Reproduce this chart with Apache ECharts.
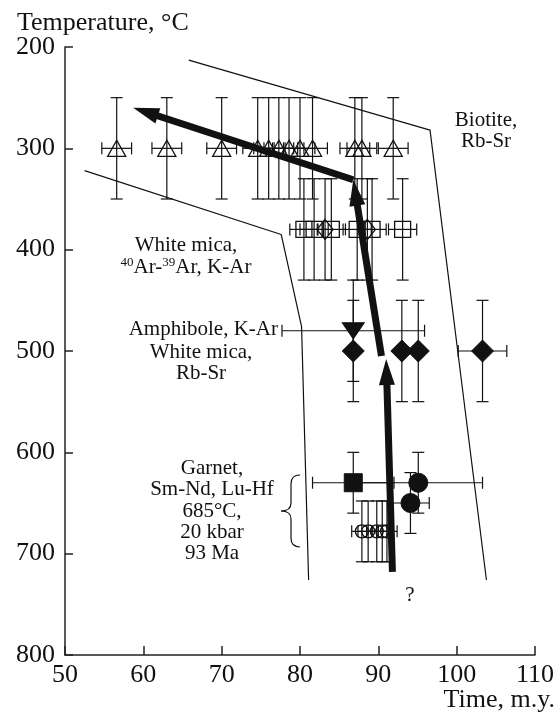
<!DOCTYPE html>
<html>
<head>
<meta charset="utf-8">
<script src="https://cdn.jsdelivr.net/npm/echarts@6.0.0/dist/echarts.min.js"></script>
<style>
  html, body { margin: 0; padding: 0; background: #fff; }
  #chart { width: 558px; height: 715px; }
</style>
</head>
<body>
<div id="chart"></div>
<script>
// Axis ticks
const timeTicks = [50, 60, 70, 80, 90, 100, 110];
const tempTicks = [200, 300, 400, 500, 600, 700, 800];

// Biotite Rb-Sr (open triangles)
const bioAge     = [56.6, 63.0, 70.0, 74.6, 76.0, 77.3, 78.6, 80.0, 81.6, 87.0, 87.9, 91.9];
const bioTemp    = [300, 300, 300, 300, 300, 300, 300, 300, 300, 300, 300, 300];
const bioAgeErr  = [1.9, 1.9, 1.9, 1.9, 1.9, 1.9, 1.9, 1.9, 1.9, 1.9, 1.9, 1.9];
const bioTempErr = [50, 50, 50, 50, 50, 50, 50, 50, 50, 50, 50, 50];

// White mica 40Ar-39Ar (open squares) and K-Ar (open diamonds)
const arAge      = [80.5, 81.8, 84.0, 87.3, 89.2, 93.1];
const arTemp     = [380, 380, 380, 380, 380, 380];
const arAgeErr   = [1.8, 1.8, 1.8, 1.8, 1.8, 1.8];
const arTempErr  = [50, 50, 50, 50, 50, 50];
const karAge     = [83.2, 88.6];
const karTemp    = [380, 380];
const karAgeErr  = [0, 0];
const karTempErr = [50, 50];

// Amphibole K-Ar (filled down triangle)
const amphAge     = [86.8];
const amphTemp    = [480];
const amphAgeErr  = [9.1];
const amphTempErr = [50];

// White mica Rb-Sr (filled diamonds)
const rbsrAge     = [86.8, 93.0, 95.1, 103.3];
const rbsrTemp    = [500, 500, 500, 500];
const rbsrAgeErr  = [0, 0, 0, 3.1];
const rbsrTempErr = [50, 50, 50, 50];

// Garnet Sm-Nd (filled square), Lu-Hf (filled circles), small open circles
const smndAge     = [86.8];
const smndTemp    = [630];
const smndAgeErr  = [5.2];
const smndTempErr = [30];
const luhfAge     = [95.1, 94.1];
const luhfTemp    = [630, 650];
const luhfAgeErr  = [8.2, 2.4];
const luhfTempErr = [30, 30];
const grtAge      = [87.9, 88.7, 89.8, 90.5, 91.1];
const grtTemp     = [678, 678, 678, 678, 678];
const grtAgeErr   = [1.3, 1.3, 1.3, 1.3, 1.3];
const grtTempErr  = [30, 30, 30, 30, 30];

// Field boundaries
const micaBoundary    = [[52.5, 322], [77.6, 385], [80.2, 476], [81.1, 726]];
const biotiteBoundary = [[65.8, 213], [96.6, 282], [103.8, 726]];

// Cooling path (from, to)
const coolingPath = [
  [91.8, 718, 91.0, 508],
  [90.4, 505, 86.8, 331],
  [86.8, 331, 58.7, 260]
];

const INK = '#111';
const FONT = '"Liberation Serif", "DejaVu Serif", serif';

function rows(...cols) {
  return cols[0].map((_, i) => cols.map(c => c[i]));
}

function errorBars(age, temp, ageErr, tempErr) {
  return {
    type: 'custom',
    silent: true,
    z: 2,
    dimensions: ['age', 'temp', 'ageErr', 'tempErr'],
    encode: { x: 0, y: 1 },
    data: rows(age, temp, ageErr, tempErr),
    renderItem(params, api) {
      const a = api.value(0), T = api.value(1), da = api.value(2), dT = api.value(3);
      const cap = 6;
      const st = { stroke: INK, lineWidth: 1.2 };
      const seg = (x1, y1, x2, y2) => ({ type: 'line', shape: { x1, y1, x2, y2 }, style: st });
      const kids = [];
      if (dT > 0) {
        const p = api.coord([a, T - dT]), q = api.coord([a, T + dT]);
        kids.push(seg(p[0], p[1], q[0], q[1]));
        kids.push(seg(p[0] - cap, p[1], p[0] + cap, p[1]));
        kids.push(seg(q[0] - cap, q[1], q[0] + cap, q[1]));
      }
      if (da > 0) {
        const p = api.coord([a - da, T]), q = api.coord([a + da, T]);
        kids.push(seg(p[0], p[1], q[0], q[1]));
        kids.push(seg(p[0], p[1] - cap, p[0], p[1] + cap));
        kids.push(seg(q[0], q[1] - cap, q[0], q[1] + cap));
      }
      return { type: 'group', children: kids };
    }
  };
}

function markers(age, temp, symbol, size, filled, rotate) {
  return {
    type: 'scatter',
    silent: true,
    z: 3,
    symbol,
    symbolSize: size,
    symbolRotate: rotate || 0,
    data: rows(age, temp),
    itemStyle: filled
      ? { color: INK, borderColor: INK, borderWidth: 1, opacity: 1 }
      : { color: 'rgba(255,255,255,0)', borderColor: INK, borderWidth: 1.3, opacity: 1 }
  };
}

const chart = echarts.init(document.getElementById('chart'), null, { renderer: 'canvas' });

const axisLine = { show: true, lineStyle: { color: '#222', width: 1.5 } };
const braceStyle = { fill: null, stroke: INK, lineWidth: 1.2 };

chart.setOption({
  animation: false,
  backgroundColor: '#fff',
  grid: { left: 65, right: 23, top: 47, bottom: 60 },
  xAxis: {
    type: 'value', min: timeTicks[0], max: timeTicks[timeTicks.length - 1], interval: 10,
    axisLine, splitLine: { show: false },
    axisTick: { show: true, inside: true, length: 9, lineStyle: { color: '#222', width: 1.5 } },
    axisLabel: { color: INK, fontFamily: FONT, fontSize: 26, margin: 7,
      formatter: v => timeTicks.includes(v) ? String(v) : '' }
  },
  yAxis: {
    type: 'value', inverse: true, min: tempTicks[0], max: tempTicks[tempTicks.length - 1], interval: 100,
    axisLine, splitLine: { show: false },
    axisTick: { show: true, inside: true, length: 8, lineStyle: { color: '#222', width: 1.5 } },
    axisLabel: { color: INK, fontFamily: FONT, fontSize: 26, margin: 10,
      formatter: v => tempTicks.includes(v) ? String(v) : '' }
  },
  series: [
    { type: 'line', data: micaBoundary, showSymbol: false, silent: true, z: 1,
      lineStyle: { color: INK, width: 1.2 } },
    { type: 'line', data: biotiteBoundary, showSymbol: false, silent: true, z: 1,
      lineStyle: { color: INK, width: 1.2 } },

    errorBars(bioAge, bioTemp, bioAgeErr, bioTempErr),
    errorBars(arAge, arTemp, arAgeErr, arTempErr),
    errorBars(karAge, karTemp, karAgeErr, karTempErr),
    errorBars(amphAge, amphTemp, amphAgeErr, amphTempErr),
    errorBars(rbsrAge, rbsrTemp, rbsrAgeErr, rbsrTempErr),
    errorBars(smndAge, smndTemp, smndAgeErr, smndTempErr),
    errorBars(luhfAge, luhfTemp, luhfAgeErr, luhfTempErr),
    errorBars(grtAge, grtTemp, grtAgeErr, grtTempErr),

    markers(bioAge, bioTemp, 'triangle', [18, 16], false),
    markers(arAge, arTemp, 'rect', [16, 16], false),
    markers(karAge, karTemp, 'diamond', [16, 20], false),
    markers(amphAge, amphTemp, 'triangle', [22, 16], true, 180),
    markers(rbsrAge, rbsrTemp, 'diamond', [22, 22], true),
    markers(smndAge, smndTemp, 'rect', [18, 18], true),
    markers(luhfAge, luhfTemp, 'circle', 19, true),
    markers(grtAge, grtTemp, 'circle', 13, false),

    {
      type: 'custom',
      silent: true,
      z: 5,
      dimensions: ['x1', 'y1', 'x2', 'y2'],
      encode: { x: [0, 2], y: [1, 3] },
      data: coolingPath,
      renderItem(params, api) {
        const p = api.coord([api.value(0), api.value(1)]);
        const q = api.coord([api.value(2), api.value(3)]);
        const dx = q[0] - p[0], dy = q[1] - p[1];
        const len = Math.hypot(dx, dy);
        const ux = dx / len, uy = dy / len;
        const head = 26, half = 8;
        const bx = q[0] - ux * head, by = q[1] - uy * head;
        return {
          type: 'group',
          children: [
            { type: 'line', shape: { x1: p[0], y1: p[1], x2: bx + ux * 2, y2: by + uy * 2 },
              style: { stroke: INK, lineWidth: 7 } },
            { type: 'polygon',
              shape: { points: [[q[0], q[1]], [bx - uy * half, by + ux * half], [bx + uy * half, by - ux * half]] },
              style: { fill: INK } }
          ]
        };
      }
    }
  ],
  graphic: [
    { type: 'text', x: 17, y: 23, style: { text: 'Temperature, °C', font: '26px ' + FONT, fill: INK,
        align: 'left', verticalAlign: 'middle' } },
    { type: 'text', x: 555, y: 700, style: { text: 'Time, m.y.', font: '26px ' + FONT, fill: INK,
        align: 'right', verticalAlign: 'middle' } },

    { type: 'text', x: 186, y: 256, style: {
        text: 'White mica,\n{s|40}Ar-{s|39}Ar, K-Ar', font: '21px ' + FONT, fill: INK,
        align: 'center', verticalAlign: 'middle', lineHeight: 22,
        rich: { s: { fontSize: 13, fontFamily: FONT, verticalAlign: 'top', lineHeight: 22, padding: [0, 0, 8, 0] } } } },
    { type: 'text', x: 278, y: 329, style: { text: 'Amphibole, K-Ar', font: '21px ' + FONT, fill: INK,
        align: 'right', verticalAlign: 'middle' } },
    { type: 'text', x: 201, y: 363, style: { text: 'White mica,\nRb-Sr', font: '21px ' + FONT, fill: INK,
        align: 'center', verticalAlign: 'middle', lineHeight: 21 } },
    { type: 'text', x: 486, y: 131, style: { text: 'Biotite,\nRb-Sr', font: '21px ' + FONT, fill: INK,
        align: 'center', verticalAlign: 'middle', lineHeight: 21 } },
    { type: 'text', x: 212, y: 511, style: { text: 'Garnet,\nSm-Nd, Lu-Hf\n685°C,\n20 kbar\n93 Ma', font: '21px ' + FONT, fill: INK,
        align: 'center', verticalAlign: 'middle', lineHeight: 21.3 } },
    { type: 'text', x: 410, y: 595, style: { text: '?', font: '21px ' + FONT, fill: INK,
        align: 'center', verticalAlign: 'middle' } },
    {
      type: 'group',
      children: [
        { type: 'bezierCurve', shape: { x1: 300, y1: 475, cpx1: 291, cpy1: 475, x2: 291, y2: 484 }, style: braceStyle },
        { type: 'line', shape: { x1: 291, y1: 484, x2: 291, y2: 503 }, style: braceStyle },
        { type: 'bezierCurve', shape: { x1: 291, y1: 503, cpx1: 291, cpy1: 511, x2: 281, y2: 511 }, style: braceStyle },
        { type: 'bezierCurve', shape: { x1: 281, y1: 511, cpx1: 291, cpy1: 511, x2: 291, y2: 519 }, style: braceStyle },
        { type: 'line', shape: { x1: 291, y1: 519, x2: 291, y2: 538 }, style: braceStyle },
        { type: 'bezierCurve', shape: { x1: 291, y1: 538, cpx1: 291, cpy1: 547, x2: 300, y2: 547 }, style: braceStyle }
      ]
    }
  ]
});
</script>
</body>
</html>
